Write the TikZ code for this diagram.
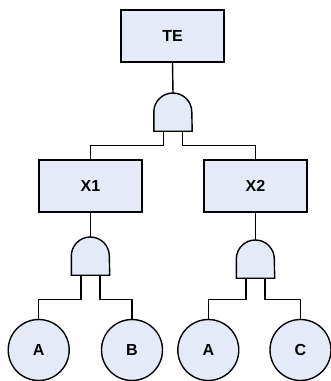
\documentclass[tikz,border=0pt]{standalone}
\usepackage{fontspec}
\setmainfont{Liberation Sans}
\definecolor{boxfill}{RGB}{228,234,246}
\begin{document}
\begin{tikzpicture}[x=1pt,y=1pt,
  every node/.style={font=\bfseries\fontsize{16}{18}\selectfont},
  event/.style={draw, line width=1.4pt, fill=boxfill, minimum width=103pt, minimum height=52pt, inner sep=0pt},
  basic/.style={draw, circle, line width=1.4pt, fill=boxfill, minimum size=61pt, inner sep=0pt},
  gatebox/.style={minimum width=38pt, minimum height=38pt, inner sep=0pt},
  gateshape/.style={draw, line width=1.4pt, fill=boxfill},
  wire/.style={line width=1.4pt}]
\useasboundingbox (0,0) rectangle (331,-381);
\node[event] (TE) at (172.5,-36) {TE};
\node[gatebox] (g0) at (173,-112) {};
\node[event] (X1) at (90.5,-186) {X1};
\node[event] (X2) at (255.5,-186) {X2};
\node[gatebox] (g1) at (90.5,-256) {};
\node[gatebox] (g2) at (255.5,-259) {};
\node[basic] (A1) at (38.7,-350) {A};
\node[basic] (B) at (132,-350) {B};
\node[basic] (A2) at (208.3,-350) {A};
\node[basic] (C) at (300.5,-350) {C};
% wires
\draw[wire] (TE.south) -- (g0.north);
\draw[wire] ([xshift=-9.5pt]g0.south) -- ++(0,-14) -| (X1.north);
\draw[wire] ([xshift=9.5pt]g0.south) -- ++(0,-14) -| (X2.north);
\draw[wire] (X1.south) -- (g1.north);
\draw[wire] (X2.south) -- (g2.north);
\draw[wire] ([xshift=-9.5pt]g1.south) -- ++(0,-24) -| (A1.north);
\draw[wire] ([xshift=9.5pt]g1.south) -- ++(0,-24) -| (B.north);
\draw[wire] ([xshift=-9.5pt]g2.south) -- ++(0,-21) -| (A2.north);
\draw[wire] ([xshift=9.5pt]g2.south) -- ++(0,-21) -| (C.north);
% gates
\foreach \g in {g0,g1,g2}
  \draw[gateshape] (\g.south west) -- (\g.west) arc[start angle=180, end angle=0, radius=19pt] -- (\g.south east) -- cycle;
\end{tikzpicture}
\end{document}
